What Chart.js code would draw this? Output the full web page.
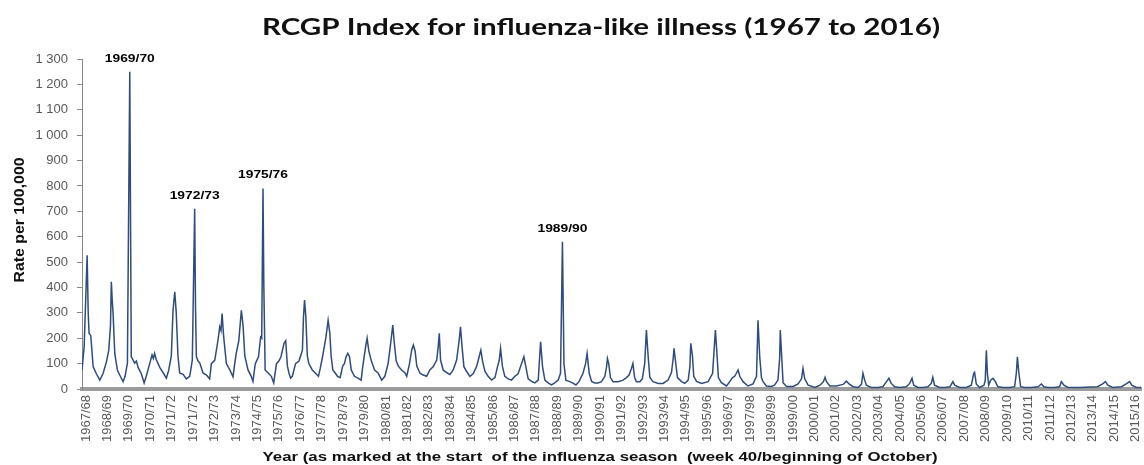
<!DOCTYPE html>
<html><head><meta charset="utf-8">
<script src="https://cdn.jsdelivr.net/npm/chart.js@4.4.0/dist/chart.umd.min.js"></script>
<style>html,body{margin:0;padding:0;background:#fff;}#wrap{width:1144px;height:465px;position:relative;}</style>
</head><body><div id="wrap"><canvas id="c" width="1144" height="465"></canvas></div>
<script>
// Tick labels along the x axis (as printed on the original, including the repeated 1971/72)
const seasonLabels = ['1967/68','1968/69','1969/70','1970/71','1971/72','1971/72','1972/73','1973/74','1974/75','1975/76',
 '1976/77','1977/78','1978/79','1979/80','1980/81','1981/82','1982/83','1983/84','1984/85','1985/86',
 '1986/87','1987/88','1988/89','1989/90','1990/91','1991/92','1992/93','1993/94','1994/95','1995/96',
 '1996/97','1997/98','1998/99','1999/00','2000/01','2001/02','2002/03','2003/04','2004/05','2005/06',
 '2006/07','2007/08','2008/09','2009/10','2010/11','2011/12','2012/13','2013/14','2014/15','2015/16'];

// Position along the axis, in label steps from the first label
const seasonPos = [-0.19,-0.09,0.05,0.10,0.14,0.22,0.33,0.48,0.64,0.79,0.95,1.06,1.14,1.18,1.22,1.26,1.34,1.46,1.57,1.73,1.82,1.93,2.04,2.11,2.19,2.27,2.35,2.43,2.58,2.71,2.81,2.97,3.08,3.14,3.20,3.28,3.44,3.59,3.75,3.86,3.98,4.06,4.14,4.21,4.29,4.37,4.53,4.68,4.84,4.96,5.07,5.11,5.15,5.23,5.31,5.46,5.62,5.77,5.85,6.01,6.16,6.24,6.30,6.35,6.42,6.55,6.71,6.86,6.94,7.01,7.13,7.25,7.33,7.41,7.56,7.71,7.79,
 7.90,8.05,8.15,8.20,8.26,8.30,8.36,8.50,8.65,8.76,8.89,9.00,9.10,9.24,9.32,9.40,9.48,9.55,9.63,9.78,9.94,10.10,10.15,10.20,10.26,10.33,10.40,10.56,10.70,10.85,10.93,11.04,11.20,11.30,11.38,11.44,11.52,11.63,11.74,11.86,11.98,12.06,12.14,12.22,12.30,12.38,12.53,12.69,12.84,12.92,13.05,13.12,13.20,13.32,13.47,13.63,13.80,13.95,14.10,14.20,14.32,14.38,14.48,14.58,14.73,14.89,14.97,15.10,15.20,15.28,15.36,15.44,15.59,15.74,15.90,
 16.05,16.21,16.37,16.44,16.49,16.55,16.67,16.83,16.99,17.14,17.30,17.42,17.48,17.56,17.64,17.76,17.92,18.07,18.23,18.35,18.43,18.51,18.62,18.77,18.93,19.09,19.21,19.29,19.35,19.44,19.55,19.71,19.86,20.02,20.17,20.33,20.44,20.53,20.64,20.80,20.95,21.11,21.22,21.31,21.42,21.57,21.73,21.88,22.04,22.15,22.24,22.31,22.40,22.55,22.71,22.87,23.02,23.20,23.32,23.39,23.49,23.60,23.75,23.90,
 24.06,24.22,24.30,24.34,24.40,24.48,24.60,24.84,25.07,25.23,25.35,25.46,25.53,25.61,25.69,25.85,25.97,26.08,26.16,26.24,26.32,26.47,26.71,26.94,27.17,27.33,27.41,27.45,27.53,27.61,27.80,27.95,28.11,28.19,28.23,28.31,28.37,28.50,28.73,29.04,29.25,29.32,29.38,29.46,29.52,29.66,29.90,30.05,30.18,30.28,30.36,30.44,30.52,30.67,30.90,31.14,31.30,31.37,31.45,31.53,31.60,31.76,31.99,
 32.14,32.30,32.38,32.41,32.48,32.54,32.70,33.01,33.24,33.40,33.47,33.55,33.71,34.03,34.26,34.42,34.50,34.56,34.72,35.03,35.34,35.50,35.62,35.81,36.04,36.20,36.27,36.35,36.43,36.66,36.97,37.20,37.36,37.48,37.59,37.75,37.98,38.29,38.45,38.56,38.64,38.84,39.07,39.30,39.46,39.53,39.61,39.85,
 40.10,40.33,40.47,40.55,40.78,41.10,41.33,41.44,41.48,41.56,41.71,41.92,41.98,42.03,42.08,42.14,42.23,42.34,42.45,42.57,42.81,43.12,43.35,43.43,43.48,43.54,43.63,43.82,44.13,44.44,44.60,44.72,44.90,45.21,45.45,45.53,45.65,45.84,46.38,47.22,47.46,47.59,47.70,47.93,48.34,48.56,48.72,48.82,49.03,49.25];

// Rate per 100,000 read at each position above
const ratePer100k = [75,166,527,300,220,210,88,60,35,60,107,153,250,422,350,300,140,75,55,29,50,102,1250,127,115,102,110,85,60,24,50,100,134,120,140,115,85,65,43,75,130,310,383,300,130,63,58,40,50,114,710,320,127,110,102,63,55,40,100,114,193,245,230,297,210,100,75,48,100,140,190,310,250,130,75,50,30,
 100,127,205,200,790,400,75,63,50,24,100,110,127,180,190,90,60,43,50,100,110,153,284,350,284,130,100,75,63,50,80,127,205,271,220,130,75,63,50,45,90,100,127,140,127,75,50,43,35,90,166,200,150,110,75,63,35,50,100,166,252,190,110,90,75,63,50,100,153,173,150,90,62,55,50,
 75,88,114,166,219,114,75,65,57,75,114,193,245,160,88,70,50,60,88,127,153,110,70,50,35,45,88,114,160,88,50,40,35,50,60,100,127,88,40,30,24,35,186,88,35,24,16,24,35,62,580,100,35,30,24,16,30,62,100,140,62,30,24,24,
 29,50,88,120,100,45,29,29,35,45,55,81,101,45,29,29,40,101,232,130,45,29,22,22,35,65,120,160,101,45,29,22,35,88,180,130,50,30,22,29,62,153,232,130,45,25,12,29,45,50,62,75,50,29,12,20,50,271,127,45,30,12,10,
 15,35,120,232,120,25,10,10,20,40,81,40,15,6,15,28,46,30,12,12,18,31,20,9,6,18,62,35,15,6,6,9,28,42,22,9,6,9,22,42,15,6,6,9,22,46,15,6,
 6,9,29,15,6,6,15,62,66,20,6,15,35,153,60,15,35,42,29,9,6,6,9,62,127,70,9,6,6,9,20,9,6,6,9,29,15,6,6,9,20,29,15,6,9,20,29,15,6,6];

// Peaks that carry a season note, with the label step in which each peak lies
const peakNotes = ['1969/70','1972/73','1975/76','1989/90'];
const peakNoteStep = [2, 5, 8, 22];

const chartTitle = 'RCGP Index for influenza-like illness (1967 to 2016)';
const xTitle = 'Year (as marked at the start  of the influenza season  (week 40/beginning of October)';
const yTitle = 'Rate per 100,000';

const points = seasonPos.map((p, i) => ({x: p, y: ratePer100k[i]}));

function fittedText(ctx, text, font, targetW, color) {
  ctx.font = font; ctx.fillStyle = color;
  const w = ctx.measureText(text).width;
  ctx.scale(targetW / w, 1);
  ctx.textAlign = 'center'; ctx.textBaseline = 'alphabetic';
  ctx.fillText(text, 0, 0);
}

const textPlugin = {
  id: 'texts',
  afterDraw(chart) {
    const ctx = chart.ctx, xs = chart.scales.x, ys = chart.scales.y;
    ctx.save(); ctx.translate(601, 35);
    fittedText(ctx, chartTitle, 'bold 22px Lato', 678, '#111'); ctx.restore();
    ctx.save(); ctx.translate(600, 461);
    fittedText(ctx, xTitle, 'bold 12.5px "Liberation Sans", Arial', 675, '#111'); ctx.restore();
    ctx.save(); ctx.translate(24, 220); ctx.rotate(-Math.PI / 2);
    fittedText(ctx, yTitle, 'bold 15px "Liberation Sans", Arial', 125, '#111'); ctx.restore();
    peakNotes.forEach((note, k) => {
      const s = peakNoteStep[k];
      let best = -1;
      seasonPos.forEach((p, i) => { if (p >= s && p < s + 1 && (best < 0 || ratePer100k[i] > ratePer100k[best])) best = i; });
      const px = xs.getPixelForValue(seasonPos[best]);
      const py = ys.getPixelForValue(ratePer100k[best]);
      ctx.save(); ctx.translate(px, py - 10);
      fittedText(ctx, note, 'bold 11.5px "Liberation Sans", Arial', 50, '#000'); ctx.restore();
    });
  }
};

new Chart(document.getElementById('c'), {
  type: 'line',
  data: { datasets: [{
    data: points, borderColor: '#2f4c7c', borderWidth: 1.5, pointRadius: 0, tension: 0, fill: false
  }]},
  options: {
    responsive: false, animation: false, devicePixelRatio: 1,
    layout: { padding: { top: 59, right: 3, bottom: 0, left: 0 } },
    plugins: { legend: { display: false }, tooltip: { enabled: false }, title: { display: false } },
    scales: {
      x: {
        type: 'linear', min: -0.19, max: 49.25,
        afterBuildTicks: s => { s.ticks = seasonLabels.map((_, i) => ({ value: i })); },
        ticks: { autoSkip: false, minRotation: 90, maxRotation: 90, padding: 6, color: '#595959',
          font: { family: '"Liberation Sans", Arial', size: 13 },
          callback: v => seasonLabels[v] ?? '' },
        grid: { display: false, drawTicks: false },
        border: { display: true, color: '#9b9b9b', width: 4 },
        afterFit: s => { s.height = 76; s.paddingLeft = 0; s.paddingRight = 0; }
      },
      y: {
        min: 0, max: 1300,
        ticks: { stepSize: 100, padding: 9, color: '#595959',
          font: { family: '"Liberation Sans", Arial', size: 13 },
          callback: v => v >= 1000 ? Math.floor(v / 1000) + ' ' + String(v % 1000).padStart(3, '0') : String(v) },
        grid: { display: true, drawOnChartArea: false, drawTicks: true, tickLength: 5, color: '#888' },
        border: { display: true, color: '#888', width: 1 },
        afterFit: s => { s.width = 82; s.paddingTop = 0; s.paddingBottom = 0; }
      }
    }
  },
  plugins: [textPlugin]
});
</script></body></html>
